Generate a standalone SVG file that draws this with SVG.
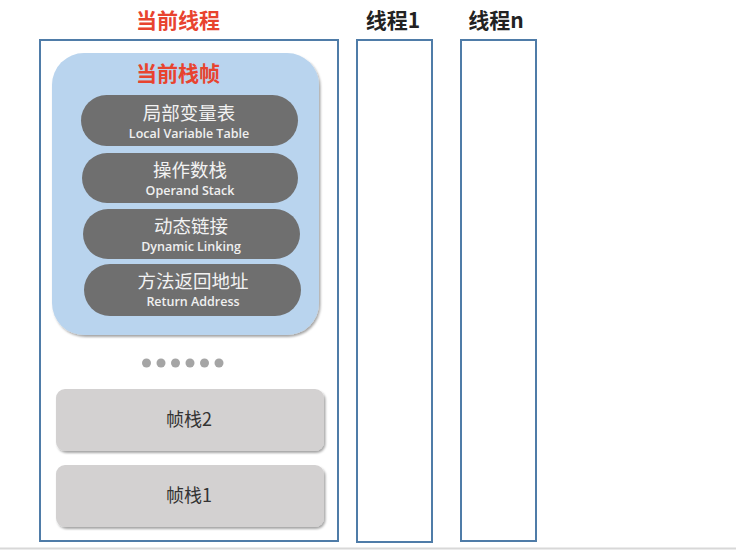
<svg xmlns="http://www.w3.org/2000/svg" width="736" height="551" viewBox="0 0 736 551">
<defs>
<style>
.thread{fill:#ffffff;stroke:#4f7ca8;stroke-width:2}
.title{font-family:"Noto Sans CJK SC","Liberation Sans",sans-serif;font-weight:bold;font-size:21px;text-anchor:middle}
.red{fill:#e8432f}
.dark{fill:#222222}
.pill{fill:#6f6f6f}
.cn{font-family:"Noto Sans CJK SC",sans-serif;font-size:18.5px;fill:#f2f2f2;text-anchor:middle}
.en{font-family:"Open Sans","Liberation Sans",sans-serif;font-size:12.5px;font-weight:600;fill:#f0f0f0;text-anchor:middle}
.frame{fill:#d3d1d1}
.ft{font-family:"Noto Sans CJK SC",sans-serif;font-size:18px;fill:#333;text-anchor:middle}
.dot{fill:#a5a5a5}
</style>
<filter id="sh" x="-5%" y="-10%" width="112%" height="130%">
<feDropShadow dx="1.5" dy="2" stdDeviation="1.2" flood-color="#000" flood-opacity="0.35"/>
</filter>
</defs>
<rect width="736" height="551" fill="#ffffff"/>
<line x1="0" y1="548.5" x2="736" y2="548.5" stroke="#d8d8d8" stroke-width="2"/>

<g id="current-thread">
<text class="title red" x="178" y="28">当前线程</text>
<rect class="thread" x="40" y="40" width="298" height="501"/>
</g>

<g id="thread-1">
<text class="title dark" x="393" y="28">线程1</text>
<rect class="thread" x="357" y="40" width="75" height="502"/>
</g>

<g id="thread-n">
<text class="title dark" x="496" y="28">线程n</text>
<rect class="thread" x="461" y="40" width="75" height="501"/>
</g>

<g id="current-frame">
<rect x="52" y="53" width="267" height="282" rx="32" fill="#b9d4ee" filter="url(#sh)"/>
<text class="title red" x="178" y="81">当前栈帧</text>
</g>

<g id="local-variable-table">
<rect class="pill" x="81" y="95" width="217" height="51" rx="25.5"/>
<text class="cn" x="189" y="120">局部变量表</text>
<text class="en" x="189" y="138">Local Variable Table</text>
</g>

<g id="operand-stack">
<rect class="pill" x="82" y="153" width="216" height="50" rx="25"/>
<text class="cn" x="190" y="177">操作数栈</text>
<text class="en" x="190" y="195">Operand Stack</text>
</g>

<g id="dynamic-linking">
<rect class="pill" x="83" y="209" width="217" height="50" rx="25"/>
<text class="cn" x="191" y="233">动态链接</text>
<text class="en" x="191" y="251">Dynamic Linking</text>
</g>

<g id="return-address">
<rect class="pill" x="84" y="264" width="217" height="52" rx="26"/>
<text class="cn" x="193" y="288">方法返回地址</text>
<text class="en" x="193" y="306">Return Address</text>
</g>

<g id="ellipsis">
<circle class="dot" cx="146.5" cy="363" r="4.5"/>
<circle class="dot" cx="161" cy="363" r="4.5"/>
<circle class="dot" cx="175.5" cy="363" r="4.5"/>
<circle class="dot" cx="190" cy="363" r="4.5"/>
<circle class="dot" cx="204.5" cy="363" r="4.5"/>
<circle class="dot" cx="219" cy="363" r="4.5"/>
</g>

<g id="frame-2">
<rect class="frame" x="56" y="389" width="268" height="62" rx="9" filter="url(#sh)"/>
<text class="ft" x="189" y="426">帧栈2</text>
</g>

<g id="frame-1">
<rect class="frame" x="56" y="465" width="268" height="62" rx="9" filter="url(#sh)"/>
<text class="ft" x="189" y="502">帧栈1</text>
</g>

<g id="connectors"></g>
</svg>
